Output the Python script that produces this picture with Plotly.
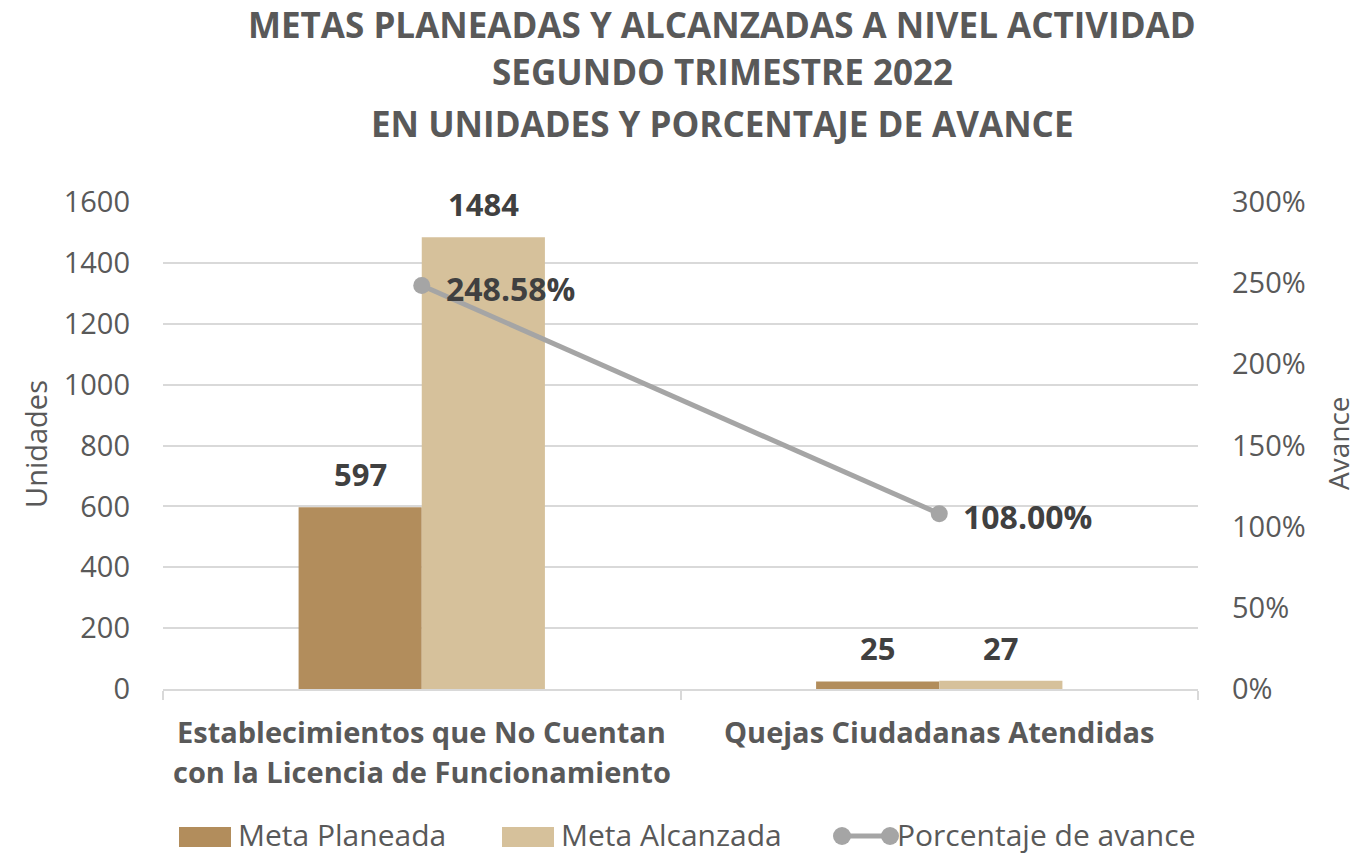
import plotly.graph_objects as go

categories = ["Establecimientos que No Cuentan con la Licencia de Funcionamiento",
              "Quejas Ciudadanas Atendidas"]
category_lines = [["Establecimientos que No Cuentan", "con la Licencia de Funcionamiento"],
                  ["Quejas Ciudadanas Atendidas"]]
meta_planeada = [597, 25]
meta_alcanzada = [1484, 27]
porcentaje_avance = [2.4858, 1.08]
porcentaje_labels = ["248.58%", "108.00%"]
series_names = ["Meta Planeada", "Meta Alcanzada", "Porcentaje de avance"]

title_lines = ["METAS PLANEADAS Y ALCANZADAS A NIVEL ACTIVIDAD",
               "SEGUNDO TRIMESTRE 2022",
               "EN UNIDADES Y PORCENTAJE DE AVANCE"]

FONT = "Open Sans"
AXIS_GREY = "#595959"
LABEL_DARK = "#404040"
GRID = "#D9D9D9"
C_PLAN = "#B28D5C"
C_ALC = "#D6C19B"
C_LINE = "#A5A5A5"

W, H = 1356, 856
M_L, M_R, M_T, M_B = 163, 158, 202, 167
PLOT_W = W - M_L - M_R
PLOT_H = H - M_T - M_B
BARGAP = 0.524


def px_x(x):
    return (x - M_L) / PLOT_W


def px_y(y):
    return (H - M_B - y) / PLOT_H


fig = go.Figure()

fig.add_trace(go.Bar(x=categories, y=meta_planeada, name=series_names[0],
                     marker=dict(color=C_PLAN, line=dict(width=0))))
fig.add_trace(go.Bar(x=categories, y=meta_alcanzada, name=series_names[1],
                     marker=dict(color=C_ALC, line=dict(width=0))))
fig.add_trace(go.Scatter(x=categories, y=porcentaje_avance, name=series_names[2],
                         yaxis="y2", mode="lines+markers",
                         line=dict(color=C_LINE, width=5),
                         marker=dict(color=C_LINE, size=17),
                         cliponaxis=False))

# value labels above the bars
half_bar = PLOT_W / 2 * (1 - BARGAP) / 2 / 2
for vals, shift in ((meta_planeada, -half_bar), (meta_alcanzada, half_bar)):
    for cat, v in zip(categories, vals):
        fig.add_annotation(x=cat, y=v, xref="x", yref="y", text=str(v),
                           showarrow=False, xshift=shift, yshift=33,
                           yanchor="middle", xanchor="center",
                           font=dict(family=FONT, size=31, color=LABEL_DARK, weight="bold"))

# percentage labels beside the line points
for cat, v, lab in zip(categories, porcentaje_avance, porcentaje_labels):
    fig.add_annotation(x=cat, y=v, xref="x", yref="y2", text=lab,
                       showarrow=False, xshift=22, yshift=-3,
                       xanchor="left", yanchor="middle",
                       font=dict(family=FONT, size=32, color=LABEL_DARK, weight="bold"))

# category labels under the axis
for cat, lines in zip(categories, category_lines):
    for i, ln in enumerate(lines):
        fig.add_annotation(x=cat, xref="x", yref="paper", y=px_y(731 + 40 * i), text=ln,
                           showarrow=False, xanchor="center", yanchor="middle",
                           font=dict(family=FONT, size=29, color=AXIS_GREY, weight="bold"))

# title
for line, py in zip(title_lines, [24, 72, 124]):
    fig.add_annotation(text=line, xref="paper", yref="paper", x=px_x(722), y=px_y(py),
                       xanchor="center", yanchor="middle", showarrow=False,
                       font=dict(family=FONT, size=35, color=AXIS_GREY, weight="bold"))

# axis titles
fig.add_annotation(text="Unidades", xref="paper", yref="paper", x=px_x(35), y=px_y(444),
                   textangle=-90, showarrow=False, xanchor="center", yanchor="middle",
                   font=dict(family=FONT, size=29, color=AXIS_GREY))
fig.add_annotation(text="Avance", xref="paper", yref="paper", x=px_x(1338), y=px_y(443),
                   textangle=-90, showarrow=False, xanchor="center", yanchor="middle",
                   font=dict(family=FONT, size=28, color=AXIS_GREY))

# legend
LEG_Y = 836
legend_font = dict(family=FONT, size=30, color=AXIS_GREY)
for x0, x1, col, name, tx in ((179, 231, C_PLAN, series_names[0], 236),
                              (502, 554, C_ALC, series_names[1], 559)):
    fig.add_shape(type="rect", xref="paper", yref="paper",
                  x0=px_x(x0), x1=px_x(x1), y0=px_y(LEG_Y - 9), y1=px_y(LEG_Y + 11),
                  fillcolor=col, line=dict(width=0))
    fig.add_annotation(text=name, xref="paper", yref="paper", x=px_x(tx), y=px_y(LEG_Y - 2),
                       xanchor="left", yanchor="middle", showarrow=False, font=legend_font)
fig.add_shape(type="line", xref="paper", yref="paper",
              x0=px_x(842), x1=px_x(890), y0=px_y(LEG_Y), y1=px_y(LEG_Y),
              line=dict(color=C_LINE, width=5))
for cx in (842, 890):
    fig.add_shape(type="circle", xref="paper", yref="paper",
                  x0=px_x(cx - 9), x1=px_x(cx + 9),
                  y0=px_y(LEG_Y + 9), y1=px_y(LEG_Y - 9),
                  fillcolor=C_LINE, line=dict(width=0))
fig.add_annotation(text=series_names[2], xref="paper", yref="paper", x=px_x(895), y=px_y(LEG_Y - 2),
                   xanchor="left", yanchor="middle", showarrow=False, font=legend_font)

fig.update_layout(
    width=W, height=H,
    margin=dict(l=M_L, r=M_R, t=M_T, b=M_B, autoexpand=False),
    paper_bgcolor="white", plot_bgcolor="white",
    barmode="group", bargap=BARGAP, bargroupgap=0,
    font=dict(family=FONT, color=AXIS_GREY),
    showlegend=False,
    xaxis=dict(
        automargin=False, showticklabels=False,
        showgrid=False, showline=True, linecolor=GRID, linewidth=2,
        ticks="outside", tickson="boundaries", ticklen=9, tickcolor=GRID, tickwidth=2,
    ),
    yaxis=dict(
        automargin=False,
        range=[0, 1600], dtick=200, showgrid=True, gridcolor=GRID, gridwidth=2,
        zeroline=False, showline=False,
        tickfont=dict(family=FONT, size=29, color=AXIS_GREY),
        ticklabelstandoff=32,
    ),
    yaxis2=dict(
        automargin=False,
        range=[0, 3], dtick=0.5, tickformat=".0%", overlaying="y", side="right",
        showgrid=False, zeroline=False, showline=False,
        tickfont=dict(family=FONT, size=29, color=AXIS_GREY),
        ticklabelstandoff=33,
    ),
)

fig.write_html("out.html")
